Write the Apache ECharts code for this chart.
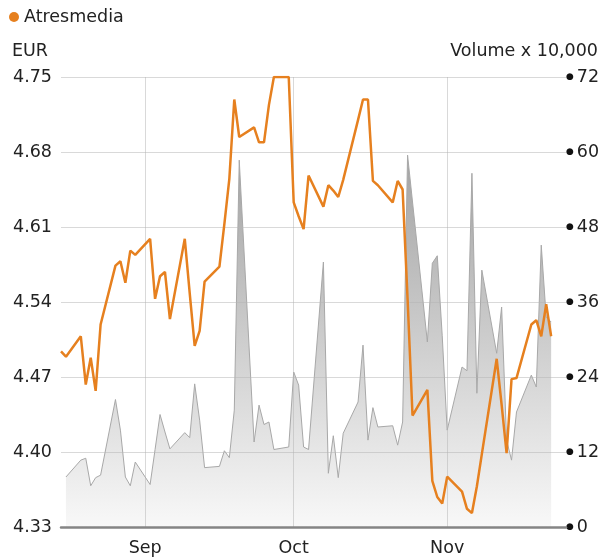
<!DOCTYPE html>
<html>
<head>
<meta charset="utf-8">
<script src="https://cdn.jsdelivr.net/npm/echarts@6/dist/echarts.min.js"></script>
<style>
  html, body { margin: 0; background: #fff; }
  #chart { width: 600px; height: 560px; }
</style>
</head>
<body>
<div id="chart"></div>
<script>
// trading days, Aug 15 - Nov 22 2024
const dates = [
  '2024-08-15', '2024-08-16', '2024-08-19', '2024-08-20', '2024-08-21', '2024-08-22', '2024-08-23',
  '2024-08-26', '2024-08-27', '2024-08-28', '2024-08-29', '2024-08-30',
  '2024-09-02', '2024-09-03', '2024-09-04', '2024-09-05', '2024-09-06',
  '2024-09-09', '2024-09-10', '2024-09-11', '2024-09-12', '2024-09-13',
  '2024-09-16', '2024-09-17', '2024-09-18', '2024-09-19', '2024-09-20',
  '2024-09-23', '2024-09-24', '2024-09-25', '2024-09-26', '2024-09-27',
  '2024-09-30', '2024-10-01', '2024-10-02', '2024-10-03', '2024-10-04',
  '2024-10-07', '2024-10-08', '2024-10-09', '2024-10-10', '2024-10-11',
  '2024-10-14', '2024-10-15', '2024-10-16', '2024-10-17', '2024-10-18',
  '2024-10-21', '2024-10-22', '2024-10-23', '2024-10-24', '2024-10-25',
  '2024-10-28', '2024-10-29', '2024-10-30', '2024-10-31', '2024-11-01',
  '2024-11-04', '2024-11-05', '2024-11-06', '2024-11-07', '2024-11-08',
  '2024-11-11', '2024-11-12', '2024-11-13', '2024-11-14', '2024-11-15',
  '2024-11-18', '2024-11-19', '2024-11-20', '2024-11-21', '2024-11-22'
]

// closing price, EUR
const price = [
  4.494, 4.489, 4.508, 4.463, 4.488, 4.457, 4.519,
  4.574, 4.578, 4.558, 4.588, 4.584,
  4.599, 4.543, 4.564, 4.568, 4.524,
  4.599, 4.548, 4.499, 4.513, 4.559,
  4.573, 4.613, 4.655, 4.729, 4.694,
  4.703, 4.689, 4.689, 4.724, 4.75,
  4.75, 4.633, 4.620, 4.608, 4.658,
  4.629, 4.649, 4.644, 4.638, 4.654,
  4.710, 4.729, 4.729, 4.653, 4.649,
  4.633, 4.653, 4.645, 4.543, 4.434,
  4.458, 4.373, 4.358, 4.352, 4.377,
  4.363, 4.347, 4.343, 4.368, 4.398,
  4.487, 4.444, 4.399, 4.468, 4.469,
  4.519, 4.523, 4.508, 4.538, 4.508
]

// volume, x 10,000 shares
const volume = [
  null, 8.0, 10.7, 11.0, 6.6, 7.9, 8.3,
  20.4, 15.5, 8.0, 6.6, 10.4,
  6.8, 12.4, 18.0, 15.2, 12.5,
  15.1, 14.3, 22.9, 17.1, 9.5,
  9.7, 12.2, 11.1, 18.7, 58.7,
  13.6, 19.5, 16.4, 16.8, 12.4,
  12.8, 24.8, 22.7, 12.8, 12.4,
  42.4, 8.6, 14.6, 7.9, 15.0,
  20.0, 29.1, 13.9, 19.1, 16.0,
  16.2, 13.1, 16.8, 59.5, 52.0,
  29.6, 42.2, 43.4, 30.6, 15.5,
  25.6, 25.0, 56.6, 21.4, 41.1,
  27.8, 35.2, 13.9, 10.7, 18.4,
  24.3, 22.4, 45.1, 33.6, 32.8
]

const priceTicks = [4.33, 4.40, 4.47, 4.54, 4.61, 4.68, 4.75]
const volumeTicks = [0, 12, 24, 36, 48, 60, 72]
const monthTicks = ['2024-09-01', '2024-10-01', '2024-11-01']
const monthNames = ['Sep', 'Oct', 'Nov']

const FONT = 'DejaVu Sans'
const ts = s => echarts.number.parseDate(s).getTime()
const monthTs = monthTicks.map(ts)

const chart = echarts.init(document.getElementById('chart'), null, { renderer: 'canvas' })

const option = {
  animation: false,
  backgroundColor: '#fff',
  textStyle: { fontFamily: FONT },
  legend: {
    data: ['Atresmedia'],
    left: 4,
    top: 3,
    icon: 'circle',
    itemWidth: 10,
    itemHeight: 10,
    textStyle: { fontSize: 17.5, color: '#222', fontFamily: FONT }
  },
  graphic: [
    { type: 'text', left: 12, top: 42, style: { text: 'EUR', fontSize: 17.5, fill: '#222', fontFamily: FONT } },
    { type: 'text', right: 2, top: 42, style: { text: 'Volume x 10,000', fontSize: 17.5, fill: '#222', fontFamily: FONT } }
  ],
  grid: { left: 61, right: 34, top: 77, bottom: 33, outerBoundsMode: 'none' },
  xAxis: {
    // dates as timestamps on a value axis, month starts as custom ticks
    type: 'value',
    min: ts('2024-08-15'),
    max: ts('2024-11-25'),
    z: 5,
    axisLine: { lineStyle: { color: '#858585', width: 2.5 } },
    axisTick: { show: false, customValues: monthTs },
    axisLabel: {
      customValues: monthTs,
      color: '#222',
      fontSize: 17.5,
      margin: 12,
      formatter: function (v) {
        const i = monthTs.findIndex(t => Math.abs(t - v) < 86400000)
        return i >= 0 ? monthNames[i] : ''
      }
    },
    splitLine: { show: true, lineStyle: { color: 'rgba(180,180,180,0.5)', width: 1 } }
  },
  yAxis: [
    {
      type: 'value',
      position: 'left',
      min: 4.33,
      max: 4.75,
      z: 5,
      axisLine: { show: false },
      axisTick: { show: false, customValues: priceTicks },
      axisLabel: {
        customValues: priceTicks,
        color: '#222',
        fontSize: 17.5,
        margin: 9,
        formatter: v => v.toFixed(2)
      },
      splitLine: { show: true, lineStyle: { color: 'rgba(180,180,180,0.5)', width: 1 } }
    },
    {
      type: 'value',
      position: 'right',
      min: 0,
      max: 72,
      interval: 12,
      axisLine: { show: false },
      axisTick: { show: false, customValues: volumeTicks },
      axisLabel: {
        customValues: volumeTicks,
        margin: 0,
        formatter: v => '{d|●}{v|' + v + '}',
        rich: {
          d: { fontSize: 9, color: '#111', fontFamily: FONT },
          v: { fontSize: 17.5, color: '#222', fontFamily: FONT, padding: [0, 0, 0, 3] }
        }
      },
      splitLine: { show: false }
    }
  ],
  series: [
    {
      name: 'Volume',
      type: 'line',
      yAxisIndex: 1,
      data: dates.map((d, i) => [ts(d), volume[i]]),
      symbol: 'none',
      lineStyle: { color: '#a8a8a8', width: 1 },
      itemStyle: { color: '#a8a8a8' },
      areaStyle: {
        color: new echarts.graphic.LinearGradient(0, 0, 0, 1, [
          { offset: 0, color: '#a3a3a3' },
          { offset: 1, color: '#f8f8f8' }
        ]),
        opacity: 1
      },
      z: 1
    },
    {
      name: 'Atresmedia',
      type: 'line',
      yAxisIndex: 0,
      data: dates.map((d, i) => [ts(d), price[i]]),
      symbol: 'none',
      lineStyle: { color: '#e6801f', width: 2.5 },
      itemStyle: { color: '#e6801f' },
      z: 8
    }
  ]
}

chart.setOption(option)
</script>
</body>
</html>
